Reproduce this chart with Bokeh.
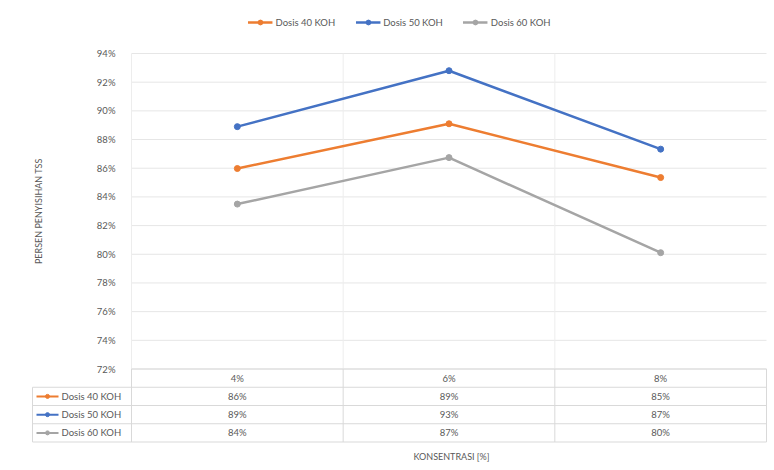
import math
from bokeh.plotting import figure
from bokeh.models import (Range1d, FixedTicker, Legend, LegendItem, Title,
                          PrintfTickFormatter, ColumnDataSource)
from bokeh.embed import file_html
from bokeh.resources import INLINE
from bokeh.core.properties import value

# ---------------- data ----------------
categories = ["4%", "6%", "8%"]
series_names = ["Dosis 40 KOH", "Dosis 50 KOH", "Dosis 60 KOH"]
dosis_40 = [85.98, 89.10, 85.35]
dosis_50 = [88.90, 92.80, 87.33]
dosis_60 = [83.50, 86.74, 80.11]
table_40 = ["86%", "89%", "85%"]
table_50 = ["89%", "93%", "87%"]
table_60 = ["84%", "87%", "80%"]
y_ticks = [72, 74, 76, 78, 80, 82, 84, 86, 88, 90, 92, 94]
y_title = "PERSEN PENYISIHAN TSS"
x_title = "KONSENTRASI [%]"

series_values = [dosis_40, dosis_50, dosis_60]
series_table = [table_40, table_50, table_60]
colors = ["#ED7D31", "#4472C4", "#A5A5A5"]

# ---------------- layout constants (pixels) ----------------
W, H = 774, 470
FONT = "Lato"
TXT = "#595959"
LINE = "#D9D9D9"
GRID = "#E6E6E6"
VGRID = "#EDEDED"
FL, FR, FT, FB = 31, 767, 8, 443        # frame edges
PLOT_L, PLOT_R = 131, 766                # plot area edges
PX_YMAX, PX_YMIN = 53, 368.5             # pixel rows of top/bottom y ticks
TABLE_L = 32
ROW_PX = 18.25

n = len(categories)
xs = list(range(n))
ppu = (PLOT_R - PLOT_L) / n
ymin, ymax = y_ticks[0], y_ticks[-1]
ppy = (PX_YMIN - PX_YMAX) / (ymax - ymin)

x0 = -0.5 - (PLOT_L - FL) / ppu
x1 = n - 0.5 + (FR - PLOT_R) / ppu
y1 = ymax + (PX_YMAX - FT) / ppy
y0 = ymin - (FB - PX_YMIN) / ppy

p = figure(width=W, height=H, x_range=Range1d(x0, x1), y_range=Range1d(y0, y1),
           output_backend="svg", toolbar_location=None,
           min_border_left=FL, min_border_right=W - FR,
           min_border_top=FT, min_border_bottom=H - FB)
p.outline_line_color = None
p.xaxis.visible = False
p.grid.visible = False

# y axis (labels drawn inside, next to plot area)
ax = p.yaxis[0]
ax.ticker = FixedTicker(ticks=y_ticks)
ax.formatter = PrintfTickFormatter(format="%d%%")
ax.axis_line_color = None
ax.major_tick_line_color = None
ax.minor_tick_line_color = None
ax.major_label_text_font = FONT
ax.major_label_text_font_size = "9.5px"
ax.major_label_text_color = TXT
ax.major_label_standoff = -(PLOT_L - FL - 10)

# horizontal grid lines over the plot area
p.segment(x0=[-0.5] * len(y_ticks), y0=y_ticks, x1=[n - 0.5] * len(y_ticks),
          y1=y_ticks, line_color=GRID, line_width=1)

# data table geometry
rows = len(series_names) + 1
rh = ROW_PX / ppy
tl = -0.5 - (PLOT_L - TABLE_L) / ppu
yb = [ymin - k * rh for k in range(rows + 1)]

# vertical separators through the plot area
vx_plot = [-0.5] + [i + 0.5 for i in range(n - 1)]
p.segment(x0=vx_plot, y0=[ymin] * len(vx_plot), x1=vx_plot, y1=[ymax] * len(vx_plot),
          line_color=VGRID, line_width=1)

# table horizontal lines
p.segment(x0=[-0.5] + [tl] * rows, y0=yb, x1=[n - 0.5] * (rows + 1), y1=yb,
          line_color=LINE, line_width=1)
# table vertical lines
vx = [tl, -0.5] + [i + 0.5 for i in range(n)]
vtop = [yb[1]] + [ymin] * (n + 1)
p.segment(x0=vx, y0=[yb[-1]] * len(vx), x1=vx, y1=vtop,
          line_color=LINE, line_width=1)

# series
items = []
for name, vals, c in zip(series_names, series_values, colors):
    src = ColumnDataSource(dict(x=xs, y=vals))
    ln = p.line("x", "y", source=src, line_color=c, line_width=2.5)
    sc = p.scatter("x", "y", source=src, size=6, fill_color=c, line_color=c)
    items.append(LegendItem(label=name, renderers=[ln, sc]))

legend = Legend(items=items, orientation="horizontal", location="top_center",
                label_text_font=FONT, label_text_font_size="9.5px",
                label_text_color=TXT, glyph_width=25, glyph_height=12,
                label_standoff=3, spacing=20, padding=4, margin=8,
                border_line_color=None, background_fill_alpha=0)
p.add_layout(legend)

# table texts
p.text(x=xs, y=[(yb[0] + yb[1]) / 2] * n, text=categories, text_align="center",
       text_baseline="middle", text_font=value(FONT), text_font_size="9.5px",
       text_color=TXT)
for i, (name, tv, c) in enumerate(zip(series_names, series_table, colors)):
    yy = (yb[i + 1] + yb[i + 2]) / 2
    p.text(x=xs, y=[yy] * n, text=tv, text_align="center",
           text_baseline="middle", text_font=value(FONT), text_font_size="9.5px",
           text_color=TXT)
    k0 = tl + 4 / ppu
    k1 = tl + 26 / ppu
    p.segment(x0=[k0], y0=[yy], x1=[k1], y1=[yy], line_color=c, line_width=2)
    p.scatter(x=[(k0 + k1) / 2], y=[yy], size=4, fill_color=c, line_color=c)
    p.text(x=[tl + 29 / ppu], y=[yy], text=[name], text_align="left",
           text_baseline="middle", text_font=value(FONT), text_font_size="9.5px",
           text_color=TXT)

# axis titles
p.text(x=[tl + 6 / ppu], y=[(ymin + ymax) / 2], text=[y_title], angle=math.pi / 2,
       text_align="center", text_baseline="middle", text_font=value(FONT),
       text_font_size="9px", text_color=TXT)
p.add_layout(Title(text=x_title, align="left", offset=(413 - FL),
                   text_font=FONT, text_font_size="9px",
                   text_font_style="normal", text_color=TXT), "below")

open("out.html", "w").write(file_html(p, INLINE))
